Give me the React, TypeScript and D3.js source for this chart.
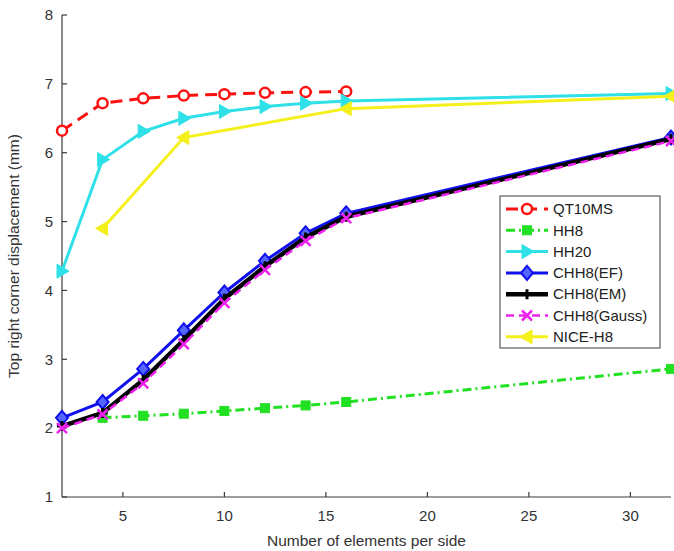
import * as d3 from 'd3';

const xTicks = [5, 10, 15, 20, 25, 30];
const yTicks = [1, 2, 3, 4, 5, 6, 7, 8];

const qtX = [2, 4, 6, 8, 10, 12, 14, 16];
const qtY = [6.32, 6.72, 6.79, 6.83, 6.85, 6.87, 6.88, 6.89];
const hh8X = [4, 6, 8, 10, 12, 14, 16, 32];
const hh8Y = [2.15, 2.18, 2.21, 2.25, 2.29, 2.33, 2.38, 2.86];
const hh20X = [2, 4, 6, 8, 10, 12, 14, 16, 32];
const hh20Y = [4.28, 5.9, 6.31, 6.5, 6.6, 6.67, 6.72, 6.75, 6.86];
const efX = [2, 4, 6, 8, 10, 12, 14, 16, 32];
const efY = [2.15, 2.38, 2.86, 3.42, 3.97, 4.43, 4.83, 5.12, 6.22];
const emY = [2.03, 2.22, 2.7, 3.28, 3.88, 4.35, 4.77, 5.07, 6.2];
const gaussY = [2.0, 2.2, 2.65, 3.22, 3.82, 4.3, 4.72, 5.05, 6.17];
const niceX = [4, 8, 16, 32];
const niceY = [4.9, 6.22, 6.64, 6.82];

type Series = {
  name: string;
  xs: number[];
  ys: number[];
  color: string;
  width: number;
  dash?: string;
  marker: string;
};

const series: Series[] = [
  { name: 'QT10MS', xs: qtX, ys: qtY, color: '#ff1010', width: 3, dash: '12,7', marker: 'circle' },
  { name: 'HH8', xs: hh8X, ys: hh8Y, color: '#22e022', width: 3, dash: '9,4,2,4', marker: 'square' },
  { name: 'HH20', xs: hh20X, ys: hh20Y, color: '#2fe0e8', width: 3, marker: 'triRight' },
  { name: 'CHH8(EF)', xs: efX, ys: efY, color: '#1010ee', width: 3, marker: 'diamond' },
  { name: 'CHH8(EM)', xs: efX, ys: emY, color: '#000000', width: 4.5, marker: 'plus' },
  { name: 'CHH8(Gauss)', xs: efX, ys: gaussY, color: '#ee22ee', width: 2.5, dash: '8,5', marker: 'cross' },
  { name: 'NICE-H8', xs: niceX, ys: niceY, color: '#f5f01a', width: 3, marker: 'triLeft' }
];

function Marker({ kind, x, y, color }: { kind: string; x: number; y: number; color: string }) {
  switch (kind) {
    case 'circle':
      return <circle cx={x} cy={y} r={5} fill="#fff" stroke={color} strokeWidth={2.5} />;
    case 'square':
      return <rect x={x - 4.5} y={y - 4.5} width={9} height={9} fill={color} stroke={color} />;
    case 'triRight':
      return <path d={`M${x + 7},${y} L${x - 5},${y - 7} L${x - 5},${y + 7} Z`} fill={color} stroke={color} />;
    case 'triLeft':
      return <path d={`M${x - 7},${y} L${x + 5},${y - 7} L${x + 5},${y + 7} Z`} fill={color} stroke={color} />;
    case 'diamond':
      return <path d={`M${x},${y - 7} L${x + 6},${y} L${x},${y + 7} L${x - 6},${y} Z`} fill="#5566ff" stroke={color} strokeWidth={2} />;
    case 'plus':
      return <path d={`M${x - 5},${y} H${x + 5} M${x},${y - 5} V${y + 5}`} stroke={color} strokeWidth={3} />;
    case 'cross':
      return <path d={`M${x - 5},${y - 5} L${x + 5},${y + 5} M${x - 5},${y + 5} L${x + 5},${y - 5}`} stroke={color} strokeWidth={2.5} />;
    default:
      return null;
  }
}

export default function App() {
  const width = 674;
  const height = 551;
  const x = d3.scaleLinear().domain([2, 32]).range([62, 671]);
  const y = d3.scaleLinear().domain([1, 8]).range([497, 15]);
  const axisColor = '#3a3a3a';
  const font = 'Liberation Sans, Arial, sans-serif';

  const line = (s: Series) =>
    d3
      .line<number>()
      .x((_, i) => x(s.xs[i]))
      .y((d) => y(d))(s.ys) ?? '';

  const legX = 500;
  const legY = 196;

  return (
    <svg
      width={width}
      height={height}
      style={{ position: 'absolute', left: 0, top: 0, background: '#fff' }}
      fontFamily={font}
    >
      {/* axes */}
      <line x1={x(2)} x2={x(2)} y1={y(8)} y2={y(1)} stroke={axisColor} strokeWidth={1.2} />
      <line x1={x(2)} x2={x(32)} y1={y(1)} y2={y(1)} stroke={axisColor} strokeWidth={1.2} />
      {yTicks.map((t) => (
        <g key={`y${t}`}>
          <line x1={x(2)} x2={x(2) + 5} y1={y(t)} y2={y(t)} stroke={axisColor} strokeWidth={1.2} />
          <text x={x(2) - 9} y={y(t)} dy="0.35em" textAnchor="end" fontSize={15} fill="#333">
            {t}
          </text>
        </g>
      ))}
      {xTicks.map((t) => (
        <g key={`x${t}`}>
          <line x1={x(t)} x2={x(t)} y1={y(1)} y2={y(1) - 5} stroke={axisColor} strokeWidth={1.2} />
          <text x={x(t)} y={y(1) + 24} textAnchor="middle" fontSize={15} fill="#333">
            {t}
          </text>
        </g>
      ))}
      <text x={(x(2) + x(32)) / 2} y={546} textAnchor="middle" fontSize={15.5} fill="#333">
        Number of elements per side
      </text>
      <text
        transform={`translate(19, ${(y(8) + y(1)) / 2}) rotate(-90)`}
        textAnchor="middle"
        fontSize={15.5}
        fill="#333"
      >
        Top right corner displacement (mm)
      </text>

      {/* series */}
      {series.map((s) => (
        <g key={s.name}>
          <path d={line(s)} fill="none" stroke={s.color} strokeWidth={s.width} strokeDasharray={s.dash} />
          {s.ys.map((v, i) => (
            <Marker key={i} kind={s.marker} x={x(s.xs[i])} y={y(v)} color={s.color} />
          ))}
        </g>
      ))}

      {/* legend */}
      <rect x={legX} y={legY} width={160} height={152} fill="#fff" stroke={axisColor} strokeWidth={1} />
      {series.map((s, i) => {
        const ry = legY + 13 + i * 21.3;
        return (
          <g key={`leg${s.name}`}>
            <line x1={legX + 6} x2={legX + 48} y1={ry} y2={ry} stroke={s.color} strokeWidth={s.width} strokeDasharray={s.dash} />
            <Marker kind={s.marker} x={legX + 27} y={ry} color={s.color} />
            <text x={legX + 53} y={ry} dy="0.35em" fontSize={15} fill="#222">
              {s.name}
            </text>
          </g>
        );
      })}
    </svg>
  );
}
